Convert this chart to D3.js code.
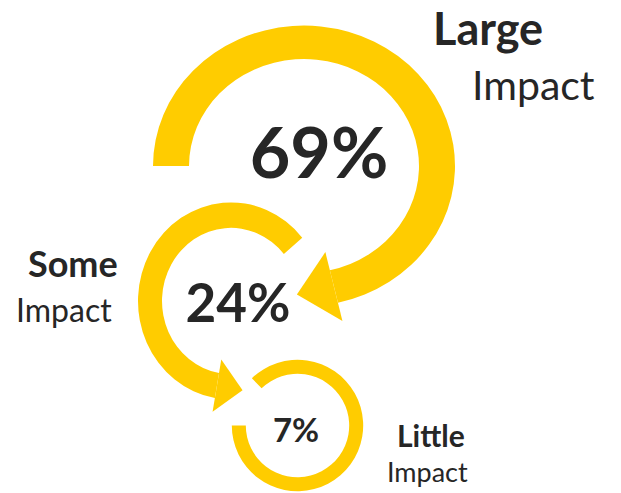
<!DOCTYPE html>
<html>
<meta charset="utf-8">
<style>
  body { margin: 0; background: #fff; }
  text { font-family: Lato, "Open Sans", sans-serif; fill: #262626; }
</style>
<script src="https://d3js.org/d3.v7.min.js"></script>
<body>
<script>
var width = 621, height = 493;

// data
var categories = ["Large", "Some", "Little"];
var values = [69, 24, 7];
var subLabel = "Impact";

// layout of each ring (centre, mid radius, band width, arc extent in degrees, arrow)
var rings = [
  { cx: 304, cy: 166, r: 133, band: 36, sy: 0.93, a0: -90, a1: 167, arrow: 1, aLen: 38, aW: 76 },
  { cx: 231, cy: 301, r: 81, band: 24, sy: 1.06, a0: -170, a1: 50, arrow: -1, aLen: 26, aW: 50 },
  { cx: 297.5, cy: 425.5, r: 58.7, band: 14, sy: 1, a0: -44, a1: 270, arrow: 0 }
];
var numPos = [ { x: 319, y: 178, size: 70 }, { x: 238, y: 322, size: 53 }, { x: 296, y: 442, size: 33 } ];
var labPos = [
  { x: 433, y: 45, size: 45, x2: 472, y2: 100, size2: 41 },
  { x: 28, y: 277, size: 36, x2: 16, y2: 322, size2: 32 },
  { x: 397, y: 447, size: 30, x2: 387, y2: 482, size2: 27 }
];

var yellow = "#ffcc00";
var rad = Math.PI / 180;

var svg = d3.select("body")
  .append("svg")
  .attr("width", width)
  .attr("height", height);

var ring = svg.selectAll("g.ring")
  .data(rings)
  .enter()
  .append("g")
  .attr("class", "ring")
  .attr("transform", function(d) { return "translate(" + d.cx + "," + d.cy + ") scale(1," + d.sy + ")"; });

ring.append("path")
  .attr("fill", yellow)
  .attr("d", function(d) {
    return d3.arc()
      .innerRadius(d.r - d.band / 2)
      .outerRadius(d.r + d.band / 2)
      .startAngle(d.a0 * rad)
      .endAngle(d.a1 * rad)();
  });

// arrow heads, drawn at the end of the arc, pointing along the travel direction
ring.filter(function(d) { return d.arrow !== 0; })
  .append("path")
  .attr("fill", yellow)
  .attr("transform", function(d) {
    var a = d.arrow > 0 ? d.a1 : d.a0;
    return "rotate(" + a + ")";
  })
  .attr("d", function(d) {
    var p = d3.path();
    p.moveTo(0, -d.r - d.aW / 2);
    p.lineTo(d.arrow * d.aLen, -d.r);
    p.lineTo(0, -d.r + d.aW / 2);
    p.closePath();
    return p.toString();
  });

// percentages
svg.selectAll("text.num")
  .data(values)
  .enter()
  .append("text")
  .attr("class", "num")
  .attr("x", function(d, i) { return numPos[i].x; })
  .attr("y", function(d, i) { return numPos[i].y; })
  .attr("text-anchor", "middle")
  .style("font-size", function(d, i) { return numPos[i].size + "px"; })
  .style("font-weight", "bold")
  .text(function(d) { return d + "%"; });

// labels
var lab = svg.selectAll("g.lab")
  .data(categories)
  .enter()
  .append("g")
  .attr("class", "lab");

lab.append("text")
  .attr("x", function(d, i) { return labPos[i].x; })
  .attr("y", function(d, i) { return labPos[i].y; })
  .style("font-size", function(d, i) { return labPos[i].size + "px"; })
  .style("font-weight", "bold")
  .text(function(d) { return d; });

lab.append("text")
  .attr("x", function(d, i) { return labPos[i].x2; })
  .attr("y", function(d, i) { return labPos[i].y2; })
  .style("font-size", function(d, i) { return labPos[i].size2 + "px"; })
  .text(subLabel);
</script>
</body>
</html>
